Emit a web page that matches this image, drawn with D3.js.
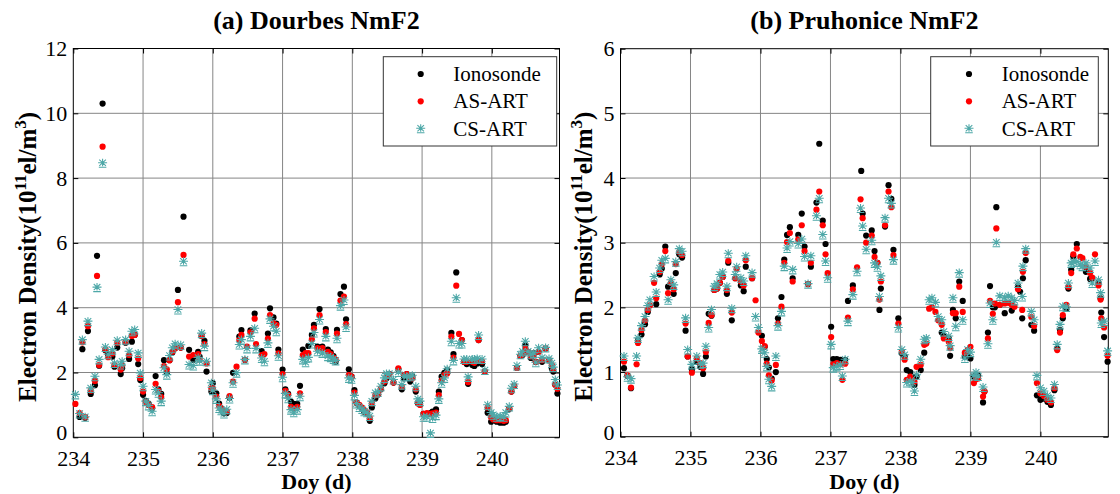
<!DOCTYPE html>
<html>
<head>
<meta charset="utf-8">
<script src="https://d3js.org/d3.v7.min.js"></script>
<style>
  html, body { margin: 0; padding: 0; background: #fff; }
  svg { display: block; font-family: "Liberation Serif", "Times New Roman", serif; }
  .tick text { font-family: "Liberation Serif", "Times New Roman", serif; font-size: 22px; fill: #000; }
  .tick line { stroke: #000; }
  .domain { display: none; }
</style>
</head>
<body>
<div id="chart"></div>
<script>
"use strict";

// ---- data (day of year, NmF2 in 1e11 el/m^3) ----
var xTicks = [234, 235, 236, 237, 238, 239, 240];
var yTicksA = [0, 2, 4, 6, 8, 10, 12];
var yTicksB = [0, 1, 2, 3, 4, 5, 6];
var seriesNames = ["Ionosonde", "AS-ART", "CS-ART"];

// (a) Dourbes
var doyA = [234.03,234.09,234.13,234.17,234.21,234.25,234.31,234.34,234.37,234.42,234.46,234.50,234.56,234.59,234.63,234.68,234.70,234.75,234.80,234.84,234.88,234.93,234.96,
  235.00,235.04,235.08,235.13,235.18,235.22,235.26,235.30,235.34,235.38,235.42,235.46,235.50,235.54,235.58,235.66,235.72,235.79,235.81,235.84,235.88,235.91,235.98,
  236.00,236.05,236.09,236.12,236.16,236.20,236.24,236.29,236.34,236.38,236.41,236.46,236.49,236.54,236.60,236.62,236.70,236.74,236.79,236.82,236.87,236.91,236.94,
  237.00,237.04,237.08,237.12,237.16,237.21,237.25,237.29,237.33,237.37,237.42,237.45,237.50,237.53,237.57,237.62,237.65,237.69,237.73,237.76,237.78,237.83,237.88,237.91,237.95,237.99,
  238.03,238.06,238.10,238.14,238.17,238.21,238.25,238.28,238.33,238.37,238.41,238.46,238.49,238.53,238.59,238.66,238.71,238.74,238.78,238.83,238.86,238.91,238.94,238.97,
  239.02,239.07,239.12,239.15,239.20,239.24,239.28,239.32,239.36,239.42,239.45,239.49,239.53,239.57,239.60,239.64,239.66,239.72,239.75,239.79,239.81,239.86,239.90,239.94,239.99,
  240.02,240.07,240.12,240.17,240.20,240.25,240.28,240.32,240.36,240.41,240.44,240.48,240.52,240.56,240.60,240.63,240.67,240.72,240.77,240.82,240.86,240.88,240.91,240.94];
var ionoA = [null,0.63,2.72,0.60,3.28,1.34,1.61,5.60,2.21,10.30,2.69,2.55,2.49,2.18,2.77,1.95,2.13,2.92,2.42,2.95,3.16,2.26,1.77,
  1.31,1.12,1.03,0.90,1.89,1.48,1.34,2.38,1.99,2.38,2.62,2.75,4.55,2.77,6.81,2.70,2.39,2.64,2.49,3.13,2.98,2.03,1.41,
  1.67,1.36,1.04,0.89,0.74,0.75,1.23,1.99,null,3.11,3.31,2.39,null,3.30,3.82,null,2.66,null,3.20,3.98,3.70,3.51,2.71,
  2.09,1.48,1.34,1.10,1.03,1.03,1.59,2.71,null,2.82,3.16,3.47,2.80,3.96,2.80,3.34,2.71,2.62,2.51,2.33,3.32,4.42,4.65,3.64,2.10,1.87,
  1.46,1.07,0.97,0.89,0.79,0.74,0.51,0.92,1.20,1.32,1.48,1.67,1.82,1.95,1.69,2.10,1.48,1.82,1.95,1.72,1.87,1.41,1.05,1.03,
  0.72,0.72,0.75,0.79,0.86,1.41,1.87,1.99,2.08,3.22,2.57,5.09,null,3.00,2.33,2.26,1.65,2.23,2.20,2.28,3.00,2.26,2.03,0.76,0.48,
  0.55,0.48,0.45,0.45,0.48,0.88,1.41,1.58,2.14,2.51,2.54,2.85,2.64,2.45,2.59,2.33,2.64,2.33,2.74,2.38,2.12,2.03,1.62,1.35];
var asA = [1.03,0.75,2.93,0.62,3.43,1.44,1.74,4.98,2.23,8.97,2.71,2.47,2.59,2.23,2.92,2.09,2.23,2.95,2.54,3.13,3.16,2.43,1.83,
  1.41,1.09,1.00,0.93,1.65,1.44,1.24,2.20,2.10,2.38,2.64,2.75,4.17,2.77,5.63,2.49,2.54,2.57,2.40,3.13,2.88,2.28,1.51,
  1.51,1.26,0.97,0.89,0.79,0.80,1.27,1.72,2.18,3.00,3.16,2.39,2.80,3.24,3.66,2.88,2.54,2.57,3.05,3.77,3.51,3.47,2.59,
  1.95,1.43,1.30,0.94,0.89,0.94,1.36,2.54,2.60,2.60,3.02,3.36,2.75,3.77,2.75,3.25,2.64,2.57,2.46,2.40,3.20,4.22,4.34,3.49,1.92,1.87,
  1.38,1.07,1.00,0.92,0.84,0.77,0.59,1.05,1.30,1.34,1.50,1.72,1.87,1.95,1.69,2.13,1.56,1.92,1.95,1.85,1.82,1.48,1.07,1.00,
  0.72,0.75,0.72,0.74,0.76,1.30,1.75,1.92,1.97,3.11,2.46,4.68,3.19,3.00,2.33,2.33,1.70,2.33,2.30,2.36,3.00,2.34,2.03,0.92,0.61,
  0.55,0.53,0.53,0.51,0.53,0.89,1.41,1.58,2.14,2.51,2.57,2.74,2.64,2.50,2.53,2.33,2.64,2.38,2.74,2.38,2.23,2.10,1.62,1.50];
var csA = [1.31,0.72,3.00,0.62,3.57,1.51,1.87,4.62,2.39,8.46,2.77,2.55,2.69,2.28,2.98,2.23,2.33,3.00,2.64,3.26,3.31,2.59,1.97,
  1.56,1.10,0.97,0.79,1.46,1.36,1.10,2.13,1.92,2.51,2.75,2.87,3.93,2.84,5.42,2.23,2.20,2.45,2.35,3.20,2.80,2.33,1.67,
  1.44,1.17,0.89,0.82,0.72,0.85,1.18,1.67,1.98,2.85,3.00,2.39,2.73,3.10,3.35,2.73,2.43,2.33,2.90,3.64,3.41,3.26,2.50,
  1.84,1.34,1.19,0.84,0.76,0.84,1.25,2.39,2.30,2.45,2.88,3.22,2.64,3.62,2.59,3.10,2.49,2.46,2.40,2.36,3.04,4.05,4.22,3.39,1.82,1.79,
  1.28,1.03,0.92,0.86,0.79,0.76,0.64,1.10,1.36,1.39,1.56,1.82,1.95,1.95,1.77,2.00,1.61,1.87,1.87,1.87,1.90,1.56,1.17,1.10,
  0.62,0.62,0.12,0.58,0.67,1.17,1.67,1.82,2.10,2.95,2.36,4.29,2.88,2.88,2.40,2.40,1.85,2.40,2.40,2.42,3.14,2.40,2.06,0.99,0.75,
  0.68,0.62,0.64,0.62,0.75,0.94,1.50,1.63,2.20,2.55,2.64,2.95,2.64,2.55,2.59,2.30,2.75,2.45,2.76,2.42,2.28,2.15,1.77,1.60];

// (b) Pruhonice
var doyB = [234.05,234.10,234.15,234.23,234.25,234.30,234.35,234.39,234.42,234.48,234.51,234.56,234.59,234.64,234.68,234.72,234.76,234.79,234.84,234.88,234.93,234.96,
  235.02,235.09,235.14,235.18,235.22,235.26,235.30,235.34,235.38,235.42,235.46,235.52,235.54,235.59,235.64,235.66,235.72,235.76,235.79,235.88,235.93,235.97,
  236.02,236.06,236.09,236.12,236.16,236.22,236.25,236.30,236.34,236.38,236.42,236.46,236.54,236.59,236.63,236.68,236.72,236.80,236.84,236.89,236.93,236.96,
  237.01,237.04,237.09,237.14,237.17,237.21,237.25,237.32,237.38,237.43,237.44,237.46,237.51,237.59,237.63,237.67,237.70,237.72,237.78,237.83,237.87,237.90,237.97,
  238.02,238.06,238.09,238.14,238.17,238.20,238.23,238.29,238.34,238.37,238.41,238.45,238.50,238.54,238.59,238.62,238.69,238.71,238.75,238.79,238.84,238.89,238.92,238.96,
  239.00,239.05,239.08,239.11,239.18,239.20,239.25,239.28,239.32,239.35,239.37,239.42,239.49,239.54,239.59,239.63,239.68,239.71,239.74,239.75,239.79,239.87,239.91,239.95,
  240.00,240.05,240.10,240.15,240.20,240.24,240.28,240.32,240.37,240.40,240.44,240.47,240.52,240.57,240.60,240.65,240.71,240.74,240.78,240.83,240.86,240.87,240.91,240.96];
var ionoB = [1.06,0.94,0.75,null,1.49,1.58,1.74,1.93,null,null,2.05,2.51,2.60,2.94,2.32,2.37,2.21,2.53,2.82,2.77,1.64,1.24,
  1.04,1.16,1.08,0.97,1.24,1.90,1.87,2.27,2.29,2.38,2.47,2.21,2.69,1.80,2.45,null,2.34,2.25,2.63,2.45,null,null,
  1.56,1.39,1.20,1.07,0.90,1.00,1.83,2.16,2.74,3.12,3.24,2.45,3.12,3.45,2.94,2.36,2.63,3.62,4.53,3.34,2.98,null,
  1.70,1.20,1.20,1.19,null,1.19,2.10,2.34,null,null,4.11,3.45,3.11,3.19,2.87,2.69,1.96,2.29,3.25,3.89,3.68,2.89,1.83,
  1.29,1.24,1.03,1.00,0.93,0.80,0.93,1.03,1.30,null,null,null,null,null,1.61,1.55,1.52,1.25,1.96,1.83,2.40,2.10,1.24,1.26,
  1.21,0.93,0.95,0.95,0.53,0.70,1.61,2.33,2.00,2.00,3.55,2.04,1.91,null,1.95,null,2.33,2.24,1.83,2.45,2.73,1.73,1.64,0.64,
  0.57,0.59,0.54,0.49,0.72,1.36,1.65,1.83,1.98,2.29,2.58,2.79,2.98,null,null,2.55,2.44,2.45,null,2.38,2.14,1.92,1.54,1.16];
var asB = [1.16,0.95,0.76,1.12,1.45,1.65,1.80,1.96,2.03,2.38,2.14,2.55,2.67,2.87,2.22,2.38,2.28,2.67,2.86,2.81,1.75,1.24,
  0.99,1.21,1.14,1.06,1.31,1.76,1.88,2.27,2.29,2.38,2.47,2.27,2.72,1.92,2.45,2.60,2.40,2.34,2.73,2.45,2.11,1.61,
  1.48,1.40,1.13,0.95,0.87,1.11,1.75,2.01,2.69,3.01,3.15,2.40,3.05,3.27,2.87,2.36,2.69,3.51,3.79,3.27,2.82,2.53,
  1.54,1.12,1.14,1.12,0.88,1.13,1.84,2.28,2.62,3.67,null,3.38,3.00,3.11,2.78,2.69,2.12,2.40,3.27,3.79,3.55,2.81,1.75,
  1.32,1.19,0.88,0.93,0.88,0.85,1.08,1.11,1.42,1.44,1.98,2.00,1.93,1.80,1.73,1.52,1.47,1.37,1.91,1.91,2.32,1.93,1.30,1.34,
  1.39,0.83,0.89,0.90,0.62,0.70,1.52,2.10,1.90,2.06,3.22,2.04,2.06,2.07,2.04,2.01,2.28,null,1.96,2.55,2.84,1.85,1.71,0.83,
  0.67,0.63,0.57,0.53,0.75,1.34,1.61,1.88,2.04,2.32,2.53,2.82,2.91,2.78,2.76,2.63,2.53,2.46,2.82,2.34,2.12,1.83,1.69,1.25];
var csB = [1.24,0.92,0.89,1.24,1.52,1.71,1.85,2.02,2.11,2.47,2.23,2.60,2.72,2.75,2.11,2.42,2.34,2.70,2.90,2.86,1.83,1.34,
  1.11,1.24,1.12,1.13,1.39,1.68,1.96,2.32,2.36,2.50,2.54,2.32,2.83,1.98,2.50,2.62,2.45,2.40,2.79,2.53,1.85,1.68,
  1.35,1.29,1.08,0.88,0.77,1.24,1.71,1.93,2.63,2.91,3.01,2.58,2.98,3.05,2.78,2.36,2.79,3.41,3.68,3.12,2.71,2.45,
  1.42,1.06,1.08,1.10,0.93,1.19,1.78,2.19,2.55,3.53,null,3.25,2.89,3.03,2.68,2.62,2.16,2.48,3.38,3.68,3.60,2.73,1.68,
  1.34,1.26,0.83,0.85,0.83,0.70,0.95,1.19,1.50,1.52,2.11,2.14,2.07,1.85,1.80,1.62,1.55,1.40,2.14,1.70,2.53,1.80,1.21,1.34,
  1.30,0.94,0.99,0.93,0.76,null,1.43,2.06,1.80,null,3.00,2.17,2.14,2.17,2.14,2.10,2.37,null,2.16,2.63,2.90,1.93,1.80,0.94,
  0.75,0.70,0.63,0.59,0.80,1.42,1.73,2.01,2.00,2.37,2.68,2.70,2.70,2.66,2.63,2.68,2.60,2.37,2.71,2.42,2.22,1.75,1.78,1.32];

// ---- layout ----
var width = 1120, height = 494;
var xDomain = [234, 240.97];

var panels = [
  { title: "(a) Dourbes NmF2", left: 73.3, right: 559.5, top: 48.5, bottom: 437.3,
    yMax: 12, yTicks: yTicksA, doy: doyA, vals: [ionoA, asA, csA],
    legend: { x0: 383.3, x1: 556.7, y0: 56.7, y1: 146, mx: 420.7, tx: 453.3 }, ylabX: 36 },
  { title: "(b) Pruhonice NmF2", left: 620.5, right: 1108.3, top: 48.7, bottom: 436.7,
    yMax: 6, yTicks: yTicksB, doy: doyB, vals: [ionoB, asB, csB],
    legend: { x0: 930.7, x1: 1098.3, y0: 56.7, y1: 146, mx: 969, tx: 1001.7 }, ylabX: 592 }
];

var svg = d3.select("#chart")
  .append("svg")
  .attr("width", width)
  .attr("height", height);

// CS-ART marker: a small teal asterisk with a bar underneath
function starPath(s) {
  return "M0," + (-4.5 * s) + "L0," + (3 * s) +
    "M" + (-4.5 * s) + ",-0.5L" + (4.5 * s) + ",-0.5" +
    "M" + (-3.3 * s) + "," + (-3.6 * s) + "L" + (3.3 * s) + "," + (2.6 * s) +
    "M" + (3.3 * s) + "," + (-3.6 * s) + "L" + (-3.3 * s) + "," + (2.6 * s) +
    "M" + (-3.8 * s) + "," + (4 * s) + "L" + (3.8 * s) + "," + (4 * s);
}

function drawMarker(g, kind, cx, cy) {
  if (kind === 0) {
    g.append("circle").attr("cx", cx).attr("cy", cy).attr("r", 3.1).attr("fill", "#000");
  } else if (kind === 1) {
    g.append("circle").attr("cx", cx).attr("cy", cy).attr("r", 3.1).attr("fill", "#ff0000");
  } else {
    g.append("path").attr("d", starPath(1))
      .attr("transform", "translate(" + cx + "," + cy + ")")
      .attr("fill", "none").attr("stroke", "#4ea8a8").attr("stroke-width", 1.1);
  }
}

panels.forEach(function (p) {
  var x = d3.scaleLinear().domain(xDomain).range([p.left, p.right]);
  var y = d3.scaleLinear().domain([0, p.yMax]).range([p.bottom, p.top]);
  var g = svg.append("g");

  // grid
  g.append("g").selectAll("line.vg")
    .data(xTicks.slice(1))
    .join("line")
    .attr("x1", function (d) { return x(d); }).attr("x2", function (d) { return x(d); })
    .attr("y1", p.top).attr("y2", p.bottom)
    .attr("stroke", "#858585").attr("stroke-width", 1);
  g.append("g").selectAll("line.hg")
    .data(p.yTicks.slice(1, -1))
    .join("line")
    .attr("x1", p.left).attr("x2", p.right)
    .attr("y1", function (d) { return y(d); }).attr("y2", function (d) { return y(d); })
    .attr("stroke", "#858585").attr("stroke-width", 1);

  // axes with inward ticks
  g.append("g")
    .attr("transform", "translate(0," + p.bottom + ")")
    .call(d3.axisBottom(x).tickValues(xTicks).tickFormat(d3.format("d"))
      .tickSizeInner(-5).tickSizeOuter(0).tickPadding(13));
  var yAxisG = g.append("g")
    .attr("transform", "translate(" + p.left + ",0)")
    .call(d3.axisLeft(y).tickValues(p.yTicks).tickFormat(d3.format("d"))
      .tickSizeInner(-5).tickSizeOuter(0).tickPadding(6));
  // lift the "0" a little so it does not collide with the first day label
  yAxisG.selectAll(".tick text")
    .filter(function (d) { return d === 0; })
    .attr("dy", "0.12em");
  g.append("g")
    .attr("transform", "translate(0," + p.top + ")")
    .call(d3.axisTop(x).tickValues(xTicks).tickFormat("").tickSizeInner(-5).tickSizeOuter(0));
  g.append("g")
    .attr("transform", "translate(" + p.right + ",0)")
    .call(d3.axisRight(y).tickValues(p.yTicks).tickFormat("").tickSizeInner(-5).tickSizeOuter(0));

  // plot box
  g.append("rect")
    .attr("x", p.left).attr("y", p.top)
    .attr("width", p.right - p.left).attr("height", p.bottom - p.top)
    .attr("fill", "none").attr("stroke", "#000").attr("stroke-width", 1);

  // points
  var rows = p.doy.map(function (d, i) {
    return { doy: d, v: [p.vals[0][i], p.vals[1][i], p.vals[2][i]] };
  });
  g.append("g").selectAll("circle.iono")
    .data(rows.filter(function (d) { return d.v[0] != null; }))
    .join("circle")
    .attr("cx", function (d) { return x(d.doy); })
    .attr("cy", function (d) { return y(d.v[0]); })
    .attr("r", 3.1).attr("fill", "#000");
  g.append("g").selectAll("circle.as")
    .data(rows.filter(function (d) { return d.v[1] != null; }))
    .join("circle")
    .attr("cx", function (d) { return x(d.doy); })
    .attr("cy", function (d) { return y(d.v[1]); })
    .attr("r", 3.1).attr("fill", "#ff0000");
  g.append("g").selectAll("path.cs")
    .data(rows.filter(function (d) { return d.v[2] != null; }))
    .join("path")
    .attr("d", starPath(1))
    .attr("transform", function (d) { return "translate(" + x(d.doy) + "," + y(d.v[2]) + ")"; })
    .attr("fill", "none").attr("stroke", "#4ea8a8").attr("stroke-width", 1.1);

  // legend
  var L = p.legend;
  var lg = g.append("g");
  lg.append("rect")
    .attr("x", L.x0).attr("y", L.y0)
    .attr("width", L.x1 - L.x0).attr("height", L.y1 - L.y0)
    .attr("fill", "#fff").attr("stroke", "#333").attr("stroke-width", 1);
  var rowsY = [74, 101.3, 128.8];
  seriesNames.forEach(function (name, i) {
    drawMarker(lg, i, L.mx, rowsY[i]);
    lg.append("text")
      .attr("x", L.tx).attr("y", rowsY[i] + 7)
      .attr("font-size", 21)
      .text(name);
  });

  // titles and labels
  var cx = (p.left + p.right) / 2;
  g.append("text")
    .attr("x", cx).attr("y", 29)
    .attr("text-anchor", "middle")
    .attr("font-weight", "bold").attr("font-size", 26)
    .text(p.title);
  g.append("text")
    .attr("x", cx).attr("y", 489)
    .attr("text-anchor", "middle")
    .attr("font-weight", "bold").attr("font-size", 22)
    .text("Doy (d)");
  var yl = g.append("text")
    .attr("transform", "translate(" + p.ylabX + "," + ((p.top + p.bottom) / 2 + 14) + ") rotate(-90)")
    .attr("text-anchor", "middle")
    .attr("font-weight", "bold").attr("font-size", 25);
  yl.append("tspan").text("Electron Density(10");
  yl.append("tspan").attr("dy", -10).attr("font-size", 17).text("11");
  yl.append("tspan").attr("dy", 10).text("el/m");
  yl.append("tspan").attr("dy", -10).attr("font-size", 17).text("3");
  yl.append("tspan").attr("dy", 10).text(")");
});
</script>
</body>
</html>
